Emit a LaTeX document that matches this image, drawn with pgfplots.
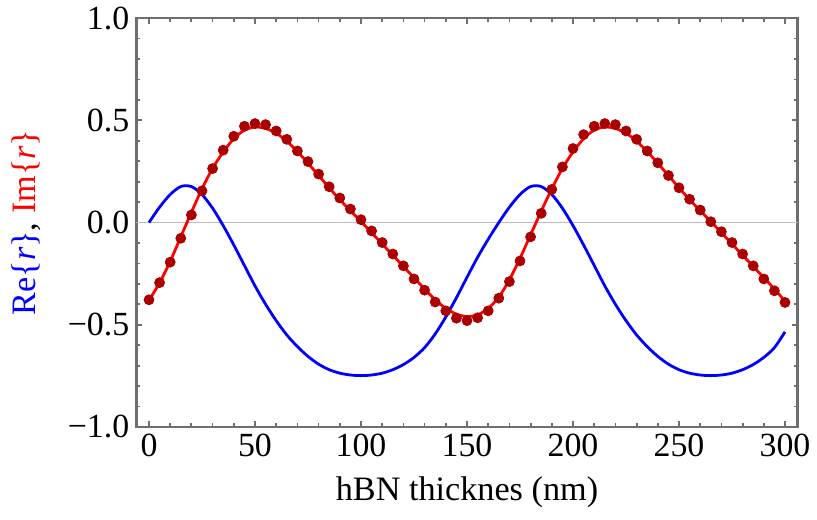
\documentclass[border=0pt]{standalone}
\usepackage{pgfplots}
\pgfplotsset{compat=1.18}
\usepackage{fontspec}
\setmainfont{Liberation Serif}
\definecolor{frameg}{RGB}{110,110,110}
\definecolor{dotred}{RGB}{170,0,0}
\definecolor{zerog}{RGB}{190,190,190}

% Re{r}, line
\pgfplotstableread{
x y
0 0.0
5 0.075
10 0.137
15 0.176
20 0.176
25 0.137
30 0.07
35 -0.015
40 -0.11
45 -0.21
50 -0.31
55 -0.40
60 -0.48
65 -0.55
70 -0.607
75 -0.655
80 -0.693
85 -0.72
90 -0.737
95 -0.746
100 -0.749
105 -0.746
110 -0.737
115 -0.72
120 -0.695
125 -0.66
130 -0.612
135 -0.545
140 -0.462
145 -0.368
150 -0.268
155 -0.17
160 -0.082
165 0.0
170 0.075
175 0.137
180 0.176
185 0.176
190 0.137
195 0.07
200 -0.015
205 -0.11
210 -0.21
215 -0.31
220 -0.40
225 -0.48
230 -0.55
235 -0.607
240 -0.655
245 -0.693
250 -0.72
255 -0.737
260 -0.746
265 -0.749
270 -0.746
275 -0.737
280 -0.72
285 -0.695
290 -0.66
295 -0.612
300 -0.535
}\rebl

% Im{r}, line
\pgfplotstableread{
x y
0 -0.38
5 -0.295
10 -0.19
15 -0.07
20 0.05
25 0.165
30 0.265
35 0.345
40 0.41
45 0.452
50 0.467
55 0.46
60 0.437
65 0.398
70 0.347
75 0.29
80 0.23
85 0.17
90 0.112
95 0.058
100 0.005
105 -0.05
110 -0.105
115 -0.16
120 -0.215
125 -0.27
130 -0.325
135 -0.378
140 -0.42
145 -0.448
150 -0.46
155 -0.452
160 -0.42
165 -0.365
170 -0.28
175 -0.175
180 -0.06
185 0.055
190 0.165
195 0.265
200 0.345
205 0.41
210 0.452
215 0.467
220 0.46
225 0.437
230 0.398
235 0.347
240 0.29
245 0.23
250 0.17
255 0.112
260 0.058
265 0.005
270 -0.05
275 -0.105
280 -0.16
285 -0.215
290 -0.27
295 -0.325
300 -0.385
}\imline

% Im{r}, dots
\pgfplotstableread{
x y
0 -0.378
5 -0.294
10 -0.194
15 -0.077
20 0.037
25 0.155
30 0.264
35 0.354
40 0.422
45 0.471
50 0.484
55 0.479
60 0.448
65 0.407
70 0.350
75 0.298
80 0.237
85 0.175
90 0.120
95 0.066
100 0.014
105 -0.041
110 -0.098
115 -0.154
120 -0.212
125 -0.276
130 -0.331
135 -0.389
140 -0.432
145 -0.468
150 -0.480
155 -0.466
160 -0.432
165 -0.370
170 -0.289
175 -0.188
180 -0.070
185 0.045
190 0.162
195 0.272
200 0.362
205 0.430
210 0.471
215 0.484
220 0.479
225 0.448
230 0.407
235 0.350
240 0.292
245 0.230
250 0.170
255 0.114
260 0.061
265 0.004
270 -0.045
275 -0.098
280 -0.154
285 -0.212
290 -0.276
295 -0.334
300 -0.391
}\imdots

\begin{document}
\begin{tikzpicture}
\begin{axis}[name=ax, scale only axis, width=332.5pt, height=205.5pt,
  xmin=-6, xmax=306, ymin=-1, ymax=1,
  font=\fontsize{17}{20}\selectfont,
  axis line style={frameg, line width=1.3pt},
  tick style={frameg, line width=0.9pt},
  major tick length=3pt, minor tick length=1.8pt,
  xtick={0,50,100,150,200,250,300},
  xticklabels={0,50,100,150,200,250,300},
  minor x tick num=4,
  ytick={-1,-0.5,0,0.5,1},
  yticklabels={−1.0,−0.5,0.0,0.5,1.0},
  minor y tick num=4,
  xlabel={hBN thicknes (nm)},
  ylabel={{\color{blue}Re\{\textit{r}\}}, {\color{red}Im\{\textit{r}\}}},
  label style={font=\fontsize{17.2}{20}\selectfont},
  xlabel style={yshift=-3pt},
  ylabel style={yshift=7pt},
  ]
\addplot[zerog, line width=0.6pt] coordinates {(-6,0) (306,0)};
\addplot[blue, line width=1.4pt, smooth] table {\rebl};
\addplot[red, line width=1.4pt, smooth] table {\imline};
\addplot[only marks, mark=*, mark size=2.5pt, color=dotred] table {\imdots};
\end{axis}
\path ([xshift=-68.5pt,yshift=-46.5pt]ax.south west) rectangle ([xshift=7.5pt,yshift=8pt]ax.north east);
\end{tikzpicture}
\end{document}
